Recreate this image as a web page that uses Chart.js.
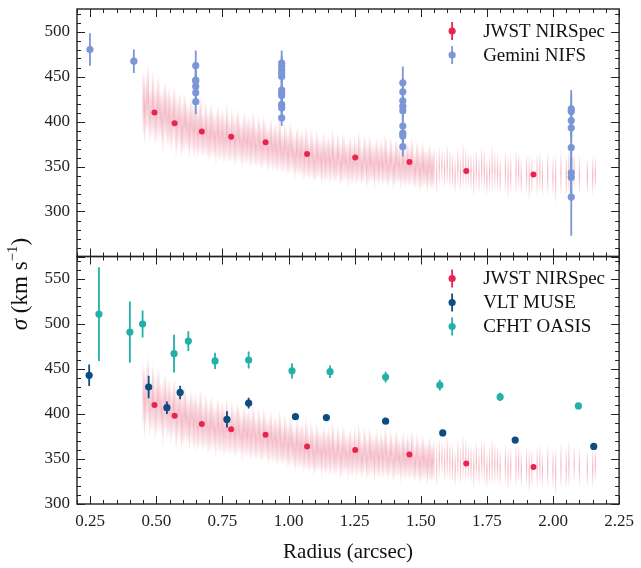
<!DOCTYPE html>
<html>
<head>
<meta charset="utf-8">
<script src="https://cdn.jsdelivr.net/npm/chart.js@4.4.1/dist/chart.umd.min.js"></script>
<style>
  html, body { margin: 0; padding: 0; background: #fff; }
</style>
</head>
<body>
<canvas id="sigma" width="641" height="568"></canvas>
<script>
// ---- data ----
var xTicks = [0.25, 0.5, 0.75, 1.0, 1.25, 1.5, 1.75, 2.0, 2.25];
var yTopTicks = [300, 350, 400, 450, 500];
var yBotTicks = [300, 350, 400, 450, 500, 550];

// JWST NIRSpec, binned
var jwstR = [0.493, 0.569, 0.672, 0.783, 0.913, 1.070, 1.252, 1.457, 1.672, 1.926];
var jwstS = [410, 398, 389, 383, 377, 364, 360, 355, 345, 341];

// JWST NIRSpec, individual spaxels (faint)
var hazeR = [0.45, 0.46, 0.47, 0.48, 0.49, 0.50, 0.51, 0.52, 0.53, 0.54,
  0.55, 0.56, 0.57, 0.58, 0.59, 0.60, 0.61, 0.62, 0.63, 0.64,
  0.65, 0.66, 0.67, 0.68, 0.69, 0.70, 0.71, 0.72, 0.73, 0.74,
  0.75, 0.76, 0.77, 0.78, 0.79, 0.80, 0.81, 0.82, 0.83, 0.84,
  0.85, 0.86, 0.87, 0.88, 0.89, 0.90, 0.91, 0.92, 0.93, 0.94,
  0.95, 0.96, 0.97, 0.98, 0.99, 1.00, 1.01, 1.02, 1.03, 1.04,
  1.05, 1.06, 1.07, 1.08, 1.09, 1.10, 1.11, 1.12, 1.13, 1.14,
  1.15, 1.16, 1.17, 1.18, 1.19, 1.20, 1.21, 1.22, 1.23, 1.24,
  1.25, 1.26, 1.27, 1.28, 1.29, 1.30, 1.31, 1.32, 1.33, 1.34,
  1.35, 1.36, 1.37, 1.38, 1.39, 1.40, 1.41, 1.42, 1.43, 1.44,
  1.45, 1.46, 1.47, 1.48, 1.49, 1.50, 1.51, 1.52, 1.53, 1.54, 1.55,
  1.57, 1.59, 1.60, 1.62, 1.64, 1.65, 1.67, 1.69, 1.71, 1.72,
  1.74, 1.76, 1.78, 1.80, 1.82, 1.84, 1.86, 1.88, 1.90, 1.92,
  1.94, 1.96, 1.98, 2.00, 2.03, 2.05, 2.06, 2.10, 2.13, 2.16,
  0.455, 0.465, 0.475, 0.485, 0.495, 0.505, 0.515, 0.525, 0.535, 0.545,
  0.555, 0.565, 0.575, 0.585, 0.595, 0.605, 0.615, 0.625, 0.635, 0.645,
  0.655, 0.665, 0.675, 0.685, 0.695, 0.705, 0.715, 0.725, 0.735, 0.745,
  0.755, 0.765, 0.775, 0.785, 0.795, 0.805, 0.815, 0.825, 0.835, 0.845,
  0.855, 0.865, 0.875, 0.885, 0.895, 0.905, 0.915, 0.925, 0.935, 0.945,
  0.955, 0.965, 0.975, 0.985, 0.995, 1.005, 1.015, 1.025, 1.035, 1.045,
  1.055, 1.065, 1.075, 1.085, 1.095, 1.105, 1.115, 1.125, 1.135, 1.145,
  1.155, 1.165, 1.175, 1.185, 1.195, 1.205, 1.215, 1.225, 1.235, 1.245,
  1.255, 1.265, 1.275, 1.285, 1.295, 1.305, 1.315, 1.325, 1.335, 1.345,
  1.355, 1.365, 1.375, 1.385, 1.395, 1.405, 1.415, 1.425, 1.435, 1.445,
  1.455, 1.465, 1.475, 1.485, 1.495, 1.505, 1.515, 1.525, 1.535, 1.545,
  1.56, 1.58, 1.61, 1.63, 1.66, 1.68, 1.70, 1.73, 1.75, 1.77,
  1.79, 1.83, 1.87, 1.91, 1.95, 2.01, 2.08, 2.15];
var hazeS = [421, 415, 426, 410, 418, 408, 414, 404, 411, 402,
  407, 399, 405, 396, 401, 393, 400, 392, 397, 389,
  395, 388, 394, 386, 391, 384, 390, 383, 389, 381,
  387, 380, 386, 378, 384, 379, 385, 376, 382, 377,
  381, 374, 379, 372, 378, 371, 377, 370, 375, 368,
  373, 367, 372, 365, 370, 364, 369, 362, 367, 361,
  366, 359, 364, 357, 363, 356, 362, 358, 360, 355,
  362, 355, 360, 354, 361, 353, 359, 356, 358, 352,
  360, 353, 358, 351, 359, 352, 357, 354, 356, 350,
  358, 351, 356, 350, 357, 349, 355, 352, 354, 348,
  355, 349, 353, 347, 352, 346, 351, 348, 350, 345, 349,
  350, 346, 352, 345, 349, 343, 348, 344, 347, 341,
  346, 343, 345, 340, 344, 342, 343, 339, 342, 340,
  341, 338, 342, 339, 343, 340, 344, 341, 339, 343,
  412, 424, 406, 419, 403, 416, 409, 400, 413, 405,
  398, 409, 394, 403, 390, 399, 395, 388, 396, 391,
  387, 396, 385, 392, 383, 389, 386, 380, 388, 384,
  381, 389, 379, 386, 377, 383, 380, 374, 381, 378,
  375, 383, 373, 380, 372, 378, 374, 369, 376, 372,
  369, 376, 366, 373, 364, 371, 367, 360, 368, 364,
  361, 368, 358, 365, 356, 363, 359, 354, 361, 357,
  356, 364, 353, 362, 351, 360, 355, 350, 358, 354,
  354, 362, 350, 359, 349, 358, 353, 348, 357, 352,
  352, 360, 348, 357, 347, 356, 351, 346, 355, 350,
  350, 357, 345, 354, 344, 352, 348, 343, 351, 346,
  343, 351, 347, 340, 351, 346, 340, 349, 338, 347,
  344, 339, 345, 337, 344, 336, 345, 340];
var hazeE = [36, 30, 38, 28, 33, 31, 35, 27, 32, 29,
  30, 27, 33, 26, 31, 28, 29, 25, 30, 27,
  28, 25, 30, 24, 27, 26, 29, 23, 27, 25,
  27, 24, 28, 23, 26, 25, 27, 22, 26, 24,
  26, 23, 27, 22, 25, 24, 26, 22, 25, 23,
  25, 23, 27, 22, 24, 23, 26, 21, 25, 22,
  25, 22, 26, 21, 24, 23, 25, 21, 24, 22,
  24, 22, 26, 21, 23, 22, 25, 20, 24, 22,
  24, 21, 25, 20, 23, 22, 24, 21, 23, 21,
  23, 21, 25, 20, 22, 21, 24, 20, 23, 21,
  23, 20, 24, 20, 22, 21, 23, 20, 22, 21, 22,
  22, 20, 23, 21, 22, 20, 23, 21, 22, 20,
  24, 21, 22, 20, 23, 21, 24, 20, 22, 21,
  23, 20, 24, 22, 25, 23, 26, 22, 20, 18,
  40, 33, 29, 37, 31, 34, 26, 36, 30, 33,
  32, 28, 35, 27, 31, 33, 26, 30, 28, 32,
  29, 33, 25, 30, 27, 31, 24, 28, 30, 26,
  28, 31, 24, 29, 26, 30, 23, 27, 29, 25,
  27, 30, 23, 28, 25, 29, 22, 26, 28, 24,
  26, 29, 22, 27, 24, 28, 21, 25, 27, 23,
  26, 29, 22, 27, 24, 28, 21, 25, 27, 23,
  25, 28, 21, 26, 23, 27, 21, 24, 26, 22,
  25, 28, 21, 26, 23, 27, 20, 24, 26, 22,
  24, 27, 21, 25, 22, 26, 20, 23, 25, 22,
  24, 26, 20, 25, 22, 26, 20, 23, 25, 21,
  24, 19, 22, 20, 25, 19, 23, 22, 20, 26,
  21, 24, 20, 25, 22, 27, 19, 22];

// Gemini NIFS
var geminiR = [0.249, 0.415,
  0.649, 0.649, 0.649, 0.649, 0.649, 0.649,
  0.974, 0.974, 0.974, 0.974, 0.974, 0.974, 0.974, 0.974, 0.974, 0.974, 0.974,
  1.432, 1.432, 1.432, 1.432, 1.432, 1.432, 1.432, 1.432, 1.432,
  2.069, 2.069, 2.069, 2.069, 2.069, 2.069, 2.069, 2.069];
var geminiS = [480, 467,
  462, 446, 445, 439, 432, 422,
  465, 461, 457, 454, 450, 435, 432, 429, 419, 415, 404,
  443, 433, 423, 417, 412, 395, 387, 384, 372,
  414, 411, 401, 393, 371, 343, 338, 316];
var geminiE = [18, 13,
  17, 14, 13, 14, 12, 14,
  14, 12, 13, 11, 12, 10, 11, 12, 10, 11, 9,
  18, 15, 14, 13, 12, 12, 11, 12, 11,
  21, 19, 18, 17, 20, 24, 22, 43];

// VLT MUSE
var museR = [0.246, 0.471, 0.540, 0.590, 0.767, 0.849, 1.026, 1.143, 1.367, 1.583, 1.857, 2.154];
var museS = [443, 430, 407, 424, 394, 412, 397, 396, 392, 379, 371, 364];
var museE = [12, 12.5, 7, 7.5, 9, 6, 3, 3, 3, 3, 3, 3];

// CFHT OASIS
var oasisR = [0.283, 0.400, 0.448, 0.567, 0.621, 0.722, 0.849, 1.013, 1.157, 1.367, 1.572, 1.800, 2.096];
var oasisS = [511, 491, 500, 467, 481, 459, 460, 448, 447, 441, 432, 419, 409];
var oasisE = [52, 34, 15, 21, 11, 9, 9.5, 8.5, 7, 6, 6, 4.5, 3];

var RED = '#e8254f';
var GEM = '#7b96d6';
var MUSE = '#0f4c81';
var OASIS = '#22b0a8';
var FONT = "'Liberation Serif', 'DejaVu Serif', serif";

function pts(r, s, e) {
  return r.map(function (x, i) { return { x: x, y: s[i], e: e ? e[i] : 0 }; });
}

// vertical error bars, drawn under the markers
// haze bars fade towards their ends
var errorBars = {
  id: 'errorBars',
  beforeDatasetDraw: function (chart, args) {
    var ds = chart.data.datasets[args.index];
    if (!ds.errColor) return;
    var meta = args.meta;
    var ys = chart.scales[ds.yAxisID];
    var xs = chart.scales.x;
    var ctx = chart.ctx;
    ctx.save();
    ctx.beginPath();
    ctx.rect(xs.left, ys.top, xs.right - xs.left, ys.bottom - ys.top);
    ctx.clip();
    ctx.lineWidth = ds.errWidth || 1.5;
    meta.data.forEach(function (el, i) {
      var d = ds.data[i];
      var y0 = ys.getPixelForValue(d.y - d.e);
      var y1 = ys.getPixelForValue(d.y + d.e);
      if (ds.errFade) {
        var g = ctx.createLinearGradient(0, y0, 0, y1);
        g.addColorStop(0, 'rgba(' + ds.errColor + ',0.02)');
        g.addColorStop(0.18, 'rgba(' + ds.errColor + ',0.16)');
        g.addColorStop(0.5, 'rgba(' + ds.errColor + ',0.34)');
        g.addColorStop(0.82, 'rgba(' + ds.errColor + ',0.16)');
        g.addColorStop(1, 'rgba(' + ds.errColor + ',0.02)');
        ctx.strokeStyle = g;
      } else {
        ctx.strokeStyle = ds.errColor;
      }
      ctx.beginPath();
      ctx.moveTo(el.x, y0);
      ctx.lineTo(el.x, y1);
      ctx.stroke();
    });
    ctx.restore();
  }
};

// frame with inward ticks on every side, y title, legends
var frame = {
  id: 'frame',
  afterDraw: function (chart) {
    var ctx = chart.ctx;
    var xs = chart.scales.x;
    ctx.save();
    ctx.strokeStyle = '#222';
    ['yTop', 'yBot'].forEach(function (id) {
      var ys = chart.scales[id];
      var l = xs.left, r = xs.right, t = ys.top, b = ys.bottom;
      ctx.lineWidth = 1;
      ctx.beginPath();
      for (var v = 0.2; v <= 2.2501; v += 0.05) {
        var px = Math.round(xs.getPixelForValue(v)) + 0.5;
        var major = Math.abs(v / 0.25 - Math.round(v / 0.25)) < 1e-6;
        var len = major ? 8 : 4;
        ctx.moveTo(px, b); ctx.lineTo(px, b - len);
        ctx.moveTo(px, t); ctx.lineTo(px, t + len);
      }
      for (var w = ys.min; w <= ys.max; w += 10) {
        var py = Math.round(ys.getPixelForValue(w)) + 0.5;
        var len2 = (w % 50 === 0) ? 8 : 4;
        ctx.moveTo(l, py); ctx.lineTo(l + len2, py);
        ctx.moveTo(r, py); ctx.lineTo(r - len2, py);
      }
      ctx.stroke();
      ctx.lineWidth = 1.4;
      ctx.strokeRect(l, t, r - l, b - t);
    });

    // y title, shared by both panels
    var yc = chart.scales.yTop.top + 275;
    ctx.translate(21, yc);
    ctx.rotate(-Math.PI / 2);
    ctx.fillStyle = '#111';
    ctx.textBaseline = 'middle';
    var parts = [
      { t: '\u03c3', f: 'italic 23px ' + FONT, dy: 0 },
      { t: ' (km s', f: '23px ' + FONT, dy: 0 },
      { t: '\u22121', f: '15px ' + FONT, dy: -8 },
      { t: ')', f: '23px ' + FONT, dy: 0 }
    ];
    var total = 0;
    parts.forEach(function (p) { ctx.font = p.f; total += ctx.measureText(p.t).width; });
    var cx = -total / 2;
    parts.forEach(function (p) {
      ctx.font = p.f;
      ctx.fillText(p.t, cx, p.dy);
      cx += ctx.measureText(p.t).width;
    });
    ctx.setTransform(1, 0, 0, 1, 0, 0);

    // legends
    function legend(ys, items) {
      var mx = xs.right - 167, tx = xs.right - 136;
      items.forEach(function (it, i) {
        var y = ys.top + 22 + i * 24;
        ctx.strokeStyle = it.c;
        ctx.lineWidth = 1.8;
        ctx.beginPath(); ctx.moveTo(mx, y - 9); ctx.lineTo(mx, y + 9); ctx.stroke();
        ctx.fillStyle = it.c;
        ctx.beginPath(); ctx.arc(mx, y, 3.6, 0, Math.PI * 2); ctx.fill();
        ctx.fillStyle = '#111';
        ctx.font = '19px ' + FONT;
        ctx.textBaseline = 'middle';
        ctx.fillText(it.t, tx, y + 1);
      });
    }
    legend(chart.scales.yTop, [{ t: 'JWST NIRSpec', c: RED }, { t: 'Gemini NIFS', c: GEM }]);
    legend(chart.scales.yBot, [{ t: 'JWST NIRSpec', c: RED }, { t: 'VLT MUSE', c: MUSE }, { t: 'CFHT OASIS', c: OASIS }]);
    ctx.restore();
  }
};

var hazeRGB = '220, 38, 78';

function fitY(s) {
  s.width = 77;
  s.paddingTop = 0;
  s.paddingBottom = 0;
}

var ctx = document.getElementById('sigma').getContext('2d');
var myChart = new Chart(ctx, {
  type: 'scatter',
  data: {
    datasets: [
      { label: 'haze top', yAxisID: 'yTop', data: pts(hazeR, hazeS, hazeE), pointRadius: 0, errColor: hazeRGB, errFade: true, errWidth: 1.2, order: 10 },
      { label: 'JWST NIRSpec', yAxisID: 'yTop', data: pts(jwstR, jwstS), pointRadius: 3, backgroundColor: RED, borderWidth: 0, order: 2 },
      { label: 'Gemini NIFS', yAxisID: 'yTop', data: pts(geminiR, geminiS, geminiE), pointRadius: 3.6, backgroundColor: GEM, borderWidth: 0, errColor: GEM, errWidth: 1.8, order: 1 },
      { label: 'haze bot', yAxisID: 'yBot', data: pts(hazeR, hazeS, hazeE), pointRadius: 0, errColor: hazeRGB, errFade: true, errWidth: 1.2, order: 10 },
      { label: 'JWST NIRSpec', yAxisID: 'yBot', data: pts(jwstR, jwstS), pointRadius: 3, backgroundColor: RED, borderWidth: 0, order: 3 },
      { label: 'VLT MUSE', yAxisID: 'yBot', data: pts(museR, museS, museE), pointRadius: 3.6, backgroundColor: MUSE, borderWidth: 0, errColor: MUSE, errWidth: 1.8, order: 2 },
      { label: 'CFHT OASIS', yAxisID: 'yBot', data: pts(oasisR, oasisS, oasisE), pointRadius: 3.6, backgroundColor: OASIS, borderWidth: 0, errColor: OASIS, errWidth: 1.8, order: 1 }
    ]
  },
  options: {
    responsive: false,
    animation: false,
    layout: { padding: { left: 0, right: 18, top: 9, bottom: 0 } },
    plugins: { legend: { display: false }, tooltip: { enabled: false } },
    elements: { point: { hoverRadius: 0 } },
    scales: {
      x: {
        type: 'linear', min: 0.2, max: 2.25,
        grid: { display: false, drawTicks: false },
        border: { display: false },
        afterBuildTicks: function (s) { s.ticks = xTicks.map(function (v) { return { value: v }; }); },
        afterFit: function (s) { s.height = 64; },
        ticks: { color: '#222', padding: 7, font: { family: FONT, size: 17 }, maxRotation: 0,
          callback: function (v) { return v.toFixed(2); } },
        title: { display: true, text: 'Radius (arcsec)', color: '#111', font: { family: FONT, size: 21 }, padding: { top: 0, bottom: 3 } }
      },
      yTop: {
        type: 'linear', position: 'left', stack: 'sig', stackWeight: 1, weight: 2,
        min: 250, max: 525,
        grid: { display: false, drawTicks: false },
        border: { display: false },
        afterBuildTicks: function (s) { s.ticks = yTopTicks.map(function (v) { return { value: v }; }); },
        afterFit: fitY,
        ticks: { color: '#222', padding: 7, font: { family: FONT, size: 17 } }
      },
      yBot: {
        type: 'linear', position: 'left', stack: 'sig', stackWeight: 1, weight: 1,
        min: 300, max: 575,
        grid: { display: false, drawTicks: false },
        border: { display: false },
        afterBuildTicks: function (s) { s.ticks = yBotTicks.map(function (v) { return { value: v }; }); },
        afterFit: fitY,
        ticks: { color: '#222', padding: 7, font: { family: FONT, size: 17 } }
      }
    }
  },
  plugins: [errorBars, frame]
});
</script>
</body>
</html>
